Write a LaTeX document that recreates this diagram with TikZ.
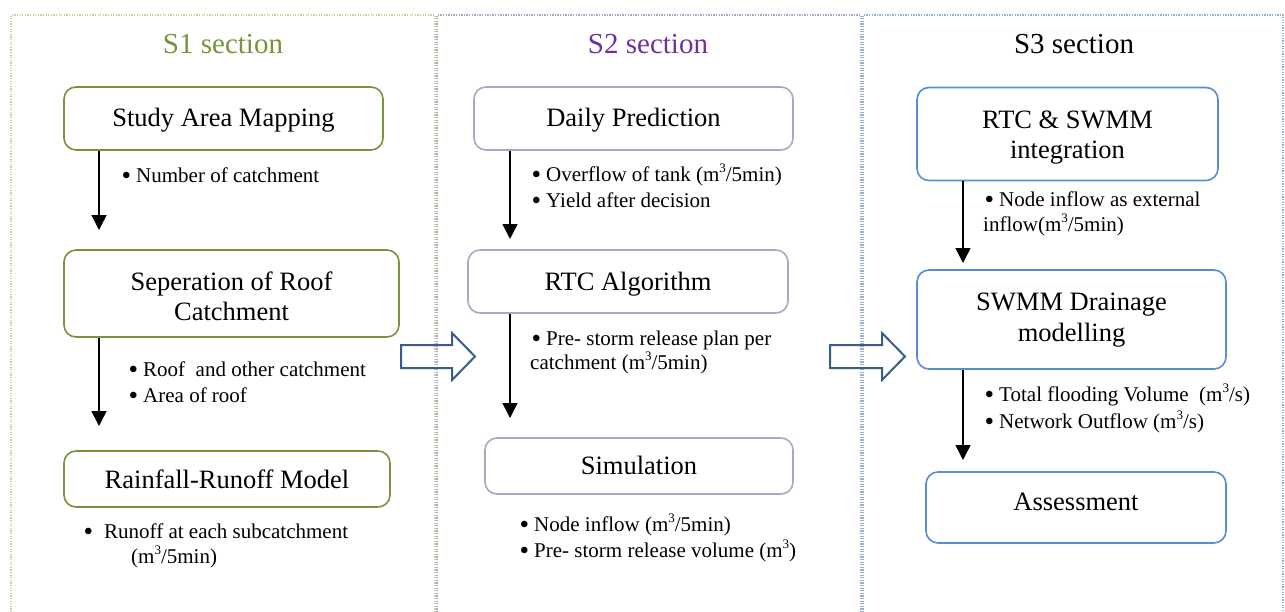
\documentclass[tikz,border=0pt]{standalone}
\usepackage{fontspec}
\setmainfont{Liberation Serif}
\usetikzlibrary{arrows.meta}
\definecolor{sgreen}{HTML}{77933C}
\definecolor{sgreenlight}{HTML}{C3D69B}
\definecolor{spurple}{HTML}{7030A0}
\definecolor{spurplelight}{HTML}{B3A2C7}
\definecolor{sblue}{HTML}{558ED5}
\definecolor{sbluelight}{HTML}{8EB4E3}
\definecolor{bigarrow}{HTML}{385D8A}
\tikzset{
  panel/.style={line width=1.3pt, dash pattern=on 1.3pt off 1.3pt},
  title/.style={font=\fontsize{29}{33}\selectfont, inner sep=0pt},
  stepbox/.style={rounded corners=12pt, line width=1.6pt, inner sep=0pt},
  boxtext/.style={anchor=base, inner sep=0pt, font=\fontsize{26.5}{30}\selectfont},
  note/.style={anchor=base west, inner sep=0pt, font=\fontsize{21}{25}\selectfont},
  flow/.style={line width=1.5pt, -{Triangle[width=15pt,length=15pt]}},
  hollow/.style={draw=bigarrow, line width=2pt, line join=miter},
}
\newcommand{\bigdot}{\raisebox{-2pt}{\scalebox{1.3}{\textbullet}}}
\newcommand{\bul}{\makebox[0pt][r]{\bigdot\hspace{5pt}}}
\newcommand{\bulwide}{\makebox[0pt][r]{\bigdot\hspace{11pt}}}
\newcommand{\cub}{\raisebox{0.42em}{\fontsize{13}{13}\selectfont 3}}
\begin{document}
\begin{tikzpicture}[x=1pt,y=-1pt]
\useasboundingbox (0,0) rectangle (1285,611);
% section panels
\draw[panel, sgreenlight] (11,620) -- (11,15) -- (435,15) -- (435,620);
\draw[panel, spurplelight] (437,620) -- (437,15) -- (861,15) -- (861,620);
\draw[panel, sbluelight] (863,620) -- (863,15) -- (1283,15) -- (1283,620);
% titles
\node[title, text=sgreen] (t1) at (223,44) {S1 section};
\node[title, text=spurple] (t2) at (648,44) {S2 section};
\node[title, text=black] (t3) at (1074,44) {S3 section};

% S1 boxes
\node[stepbox, draw=sgreen, minimum width=319pt, minimum height=63pt] (a1) at (223.5,118.5) {};
\node[boxtext] (a1t) at (223.5,126) {Study Area Mapping};
\node[stepbox, draw=sgreen, minimum width=335pt, minimum height=87pt] (a2) at (231.5,293.5) {};
\node[boxtext] (a2t) at (231.5,290) {Seperation of Roof};
\node[boxtext] (a2u) at (231.5,320.5) {Catchment};
\node[stepbox, draw=sgreen, minimum width=326pt, minimum height=56pt] (a3) at (227,479) {};
\node[boxtext] (a3t) at (227,488) {Rainfall-Runoff Model};
\coordinate (a1e) at (99,230);
\coordinate (a2e) at (99,426);
\draw[flow] (a1.south -| a1e) -- (a1e);
\draw[flow] (a2.south -| a2e) -- (a2e);
\node[note] (n11) at (136,182) {\bul Number of catchment};
\node[note] (n12) at (143,376) {\bul Roof\ \ and other catchment};
\node[note] (n13) at (143,402) {\bul Area of roof};
\node[note] (n14) at (104,538) {\bulwide Runoff at each subcatchment};
\node[note] (n15) at (131,563) {(m\cub/5min)};

% S2 boxes
\node[stepbox, draw=spurplelight, minimum width=319pt, minimum height=63pt] (b1) at (633.5,118.5) {};
\node[boxtext] (b1t) at (633.5,126) {Daily Prediction};
\node[stepbox, draw=spurplelight, minimum width=320pt, minimum height=63pt] (b2) at (628,281.5) {};
\node[boxtext] (b2t) at (628,290) {RTC Algorithm};
\node[stepbox, draw=spurplelight, minimum width=308pt, minimum height=56pt] (b3) at (639,466) {};
\node[boxtext] (b3t) at (639,474.5) {Simulation};
\coordinate (b1e) at (510,239);
\coordinate (b2e) at (510,418);
\draw[flow] (b1.south -| b1e) -- (b1e);
\draw[flow] (b2.south -| b2e) -- (b2e);
% two-line note: the base anchor sits on the last line
\node[note, align=left, font=\fontsize{21}{25.5}\selectfont] (n21) at (546,207) {\bul Overflow of tank (m\cub/5min)\\\bul Yield after decision};
\node[note] (n23) at (546,345) {\bul Pre- storm release plan per};
\node[note] (n24) at (530,369) {catchment (m\cub/5min)};
\node[note] (n25) at (534,531) {\bul Node inflow (m\cub/5min)};
\node[note] (n26) at (534,557) {\bul Pre- storm release volume (m\cub)};

% S3 boxes
\node[stepbox, draw=sblue, minimum width=301pt, minimum height=93pt] (c1) at (1067.5,134) {};
\node[boxtext] (c1t) at (1067.5,128.3) {RTC \& SWMM};
\node[boxtext] (c1u) at (1067.5,158.3) {integration};
\node[stepbox, draw=sblue, minimum width=309pt, minimum height=99pt] (c2) at (1071.5,319.5) {};
\node[boxtext] (c2t) at (1071.5,310.5) {SWMM Drainage};
\node[boxtext] (c2u) at (1071.5,341) {modelling};
\node[stepbox, draw=sblue, minimum width=300pt, minimum height=71pt] (c3) at (1076,507.5) {};
\node[boxtext] (c3t) at (1076,510.5) {Assessment};
\coordinate (c1e) at (963,263);
\coordinate (c2e) at (963,460);
\draw[flow] (c1.south -| c1e) -- (c1e);
\draw[flow] (c2.south -| c2e) -- (c2e);
\node[note] (n31) at (999,206) {\bul Node inflow as external};
\node[note] (n32) at (983,231) {inflow(m\cub/5min)};
\node[note] (n33) at (999,401) {\bul Total flooding Volume\ \ (m\cub/s)};
\node[note] (n34) at (999,428) {\bul Network Outflow (m\cub/s)};

% hollow block arrows between sections
\draw[hollow] (401,345) -- (452,345) -- (452,333) -- (475,356.5) -- (452,380) -- (452,368) -- (401,368) -- cycle;
\draw[hollow] (830,345) -- (882,345) -- (882,333) -- (905,356.5) -- (882,380) -- (882,368) -- (830,368) -- cycle;
\end{tikzpicture}
\end{document}
